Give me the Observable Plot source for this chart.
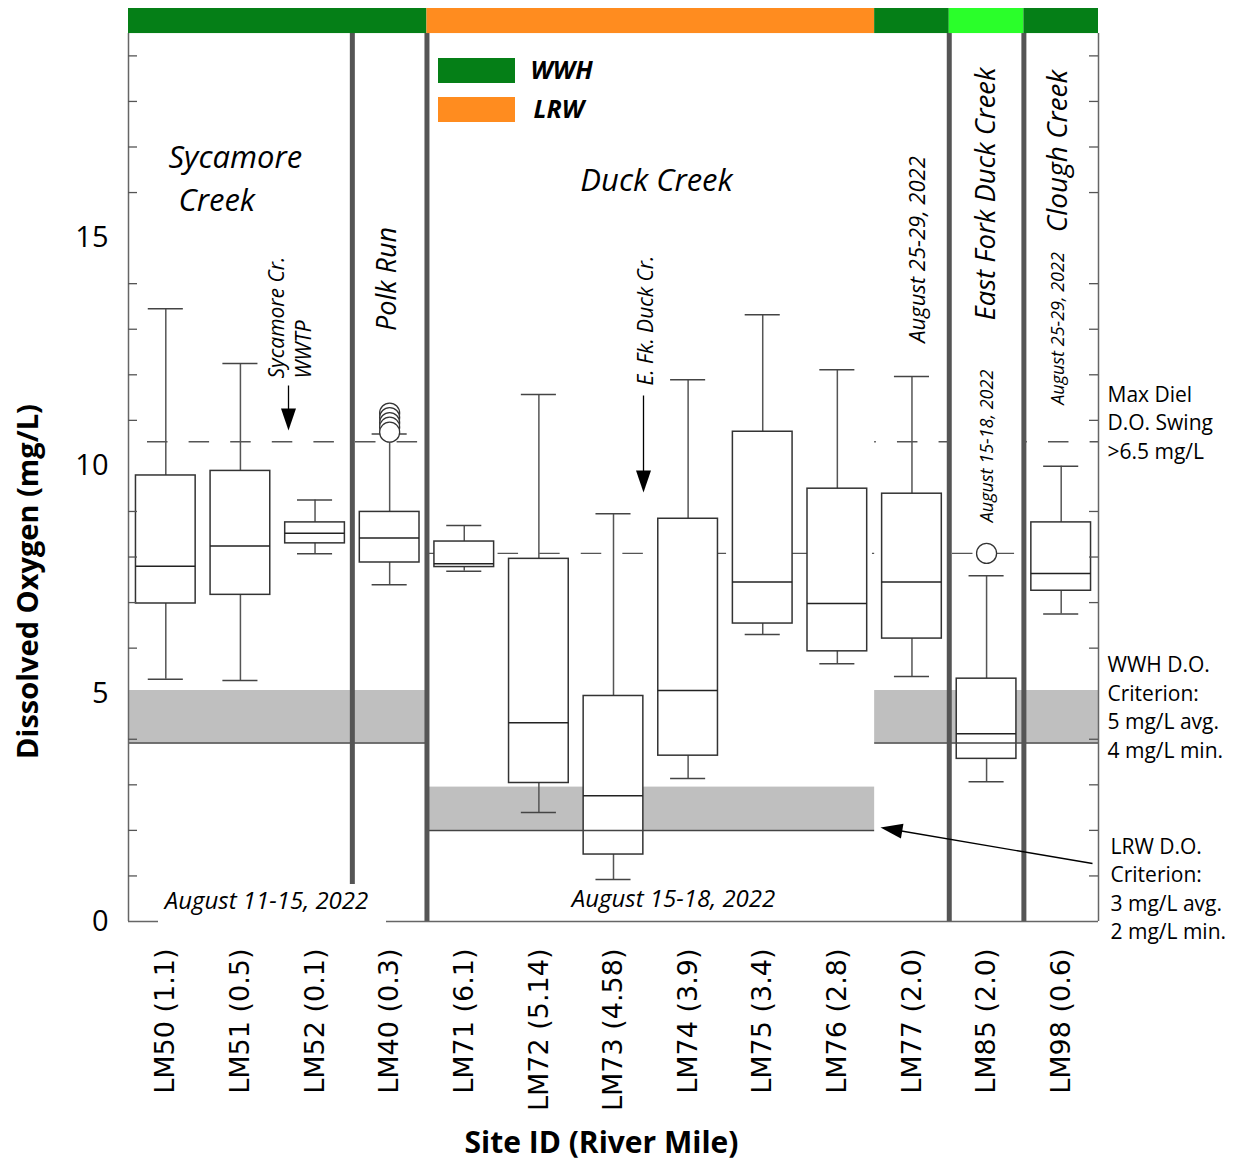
<!DOCTYPE html>
<html>
<head>
<meta charset="utf-8">
<script src="https://cdn.jsdelivr.net/npm/d3@7"></script>
<script src="https://cdn.jsdelivr.net/npm/@observablehq/plot@0.6"></script>
<style>
  body { margin: 0; background: #fff; }
  #chart svg { display: block; }
</style>
</head>
<body>
<div id="chart"></div>
<script>
// ---------------- data ----------------
const sites = ["LM50 (1.1)", "LM51 (0.5)", "LM52 (0.1)", "LM40 (0.3)", "LM71 (6.1)", "LM72 (5.14)",
  "LM73 (4.58)", "LM74 (3.9)", "LM75 (3.4)", "LM76 (2.8)", "LM77 (2.0)", "LM85 (2.0)", "LM98 (0.6)"];
const whiskerLow  = [5.32, 5.29, 8.07, 7.39, 7.69, 2.39, 0.92, 3.14, 6.30, 5.66, 5.38, 3.07, 6.75];
const quartile1   = [6.98, 7.17, 8.30, 7.88, 7.78, 3.04, 1.47, 3.64, 6.54, 5.93, 6.21, 3.57, 7.26];
const median      = [7.80, 8.24, 8.52, 8.42, 7.85, 4.36, 2.76, 5.07, 7.45, 6.98, 7.45, 4.12, 7.64];
const quartile3   = [9.79, 9.89, 8.76, 8.99, 8.34, 7.96, 4.95, 8.84, 10.75, 9.50, 9.39, 5.33, 8.76];
const whiskerHigh = [13.45, 12.25, 9.25, 10.70, 8.69, 11.57, 8.95, 11.89, 13.32, 12.11, 11.96, 7.59, 9.99];

const outlierSites  = ["LM40 (0.3)", "LM40 (0.3)", "LM40 (0.3)", "LM40 (0.3)", "LM40 (0.3)", "LM85 (2.0)"];
const outlierValues = [11.16, 11.06, 10.95, 10.85, 10.74, 8.08];

const streams = ["Sycamore Creek", "Sycamore Creek", "Sycamore Creek", "Polk Run", "Duck Creek", "Duck Creek",
  "Duck Creek", "Duck Creek", "Duck Creek", "Duck Creek", "Duck Creek", "East Fork Duck Creek", "Clough Creek"];
const aquaticUse = ["WWH", "WWH", "WWH", "WWH", "LRW", "LRW", "LRW", "LRW", "LRW", "LRW", "WWH", "WWH (E. Fk.)", "WWH"];
const criterionUse = ["WWH", "WWH", "WWH", "WWH", "LRW", "LRW", "LRW", "LRW", "LRW", "LRW", "WWH", "WWH", "WWH"];
const criterionAvg = {WWH: 5.07, LRW: 2.95};
const criterionMin = {WWH: 3.92, LRW: 2.0};
const dielSwingLevel = [10.53, 10.53, 10.53, 10.53, 8.08, 8.08, 8.08, 8.08, 8.08, 8.08, 10.53, 8.08, 10.53];

const legendLabels = ["WWH", "LRW"];
const yTickLabels = [0, 5, 10, 15];

// ---------------- styles / layout ----------------
const useColor = {"WWH": "#057f17", "LRW": "#ff8c1f", "WWH (E. Fk.)": "#2aff2a"};
const W = 1234, H = 1161;
const mL = 128, mR = 136, mT = 8, mB = 240;
const yMax = 20.04, frameTop = 19.49;
const nSites = sites.length;
const xd = px => (px - mL) / (W - mL - mR) * nSites;      // annotation helpers
const yd = py => (H - mB - py) / (H - mB - mT) * yMax;
const pxPerX = (W - mL - mR) / nSites;

function runs(values) {
  const out = [];
  values.forEach((v, i) => {
    const last = out[out.length - 1];
    if (last && last.value === v) last.end = i + 1;
    else out.push({value: v, start: i, end: i + 1});
  });
  return out;
}

const boxes = sites.map((s, i) => ({site: s, c: i + 0.5, lo: whiskerLow[i], q1: quartile1[i],
  med: median[i], q3: quartile3[i], hi: whiskerHigh[i]}));
const outliers = outlierSites.map((s, i) => ({site: s, value: outlierValues[i]}));
const BOX = 0.4, CAP = 0.235;

const criterionRuns = runs(criterionUse);
const useRuns = runs(aquaticUse);
const dielRuns = runs(dielSwingLevel);
const dividers = d3.range(1, nSites).filter(i => streams[i] !== streams[i - 1]);
const minorTicks = d3.range(1, 20).filter(v => v % 5 !== 0);

// dashed lines: lead (px) to the first dash in each run
const dashLead = [19, 29.5, 22.8, 3.2, 24.6];
const dashPeriod = 41.6;

const dashMarks = dielRuns.map((r, k) => Plot.ruleY([r], {
  y: "value", x1: "start", x2: "end", stroke: "#555", strokeWidth: 1.4,
  strokeDasharray: "20.5,21.1", strokeDashoffset: (dashPeriod - dashLead[k]) % dashPeriod
}));

// arrow head symbol: tip at origin, pointing up
const headSymbol = {draw(ctx) { ctx.moveTo(0, 0); ctx.lineTo(-7.5, 22); ctx.lineTo(7.5, 22); ctx.closePath(); }};
const lrwTail = [1092, 863], lrwTip = [880, 827];
const lrwAngle = Math.atan2(lrwTip[0] - lrwTail[0], -(lrwTip[1] - lrwTail[1])) * 180 / Math.PI;
const arrows = [
  {x1: xd(288), y1: yd(385), x2: xd(288), y2: yd(412), tx: xd(288), ty: yd(430), rot: 180},
  {x1: xd(643), y1: yd(395), x2: xd(643), y2: yd(474), tx: xd(643), ty: yd(492), rot: 180},
  {x1: xd(lrwTail[0]), y1: yd(lrwTail[1]), x2: xd(lrwTip[0] + 18), y2: yd(lrwTip[1] + 3), tx: xd(lrwTip[0]), ty: yd(lrwTip[1]), rot: lrwAngle}
];

const annotations = [
  {text: "Sycamore", x: 168, y: 158, size: 31, anchor: "start"},
  {text: "Creek", x: 178, y: 201, size: 31, anchor: "start"},
  {text: "Duck Creek", x: 656, y: 181, size: 31},
  {text: "Polk Run", x: 387, y: 278.5, size: 27, rotate: -90},
  {text: "Sycamore Cr.", x: 277, y: 378, size: 21, rotate: -90, anchor: "start"},
  {text: "WWTP", x: 304, y: 378, size: 21, rotate: -90, anchor: "start"},
  {text: "E. Fk. Duck Cr.", x: 646, y: 385, size: 21, rotate: -90, anchor: "start"},
  {text: "August 25-29, 2022", x: 917, y: 249, size: 22, rotate: -90},
  {text: "East Fork Duck Creek", x: 986, y: 193.5, size: 27.5, rotate: -90},
  {text: "Clough Creek", x: 1058, y: 150.5, size: 28, rotate: -90},
  {text: "August 25-29, 2022", x: 1058, y: 328, size: 18, rotate: -90},
  {text: "August 15-18, 2022", x: 987, y: 445.5, size: 18, rotate: -90},
  {text: "August 11-15, 2022", x: 266, y: 901, size: 24},
  {text: "August 15-18, 2022", x: 673, y: 899, size: 24}
];
const notes = [
  {text: "Max Diel\nD.O. Swing\n>6.5 mg/L", x: 1107, y: 420.5},
  {text: "WWH D.O.\nCriterion:\n5 mg/L avg.\n4 mg/L min.", x: 1107, y: 705.5},
  {text: "LRW D.O.\nCriterion:\n3 mg/L avg.\n2 mg/L min.", x: 1110, y: 887}
];

const chart = Plot.plot({
  width: W, height: H,
  marginLeft: mL, marginRight: mR, marginTop: mT, marginBottom: mB,
  style: {fontFamily: "Open Sans", background: "white"},
  x: {domain: [0, nSites], axis: null},
  y: {domain: [0, yMax], axis: null},
  color: {type: "identity"},
  marks: [
    // criterion bands
    Plot.rect(criterionRuns, {x1: "start", x2: "end", y1: d => criterionMin[d.value], y2: d => criterionAvg[d.value], fill: "#bfbfbf"}),
    // diel swing dashed lines
    ...dashMarks,
    // whiskers and caps
    Plot.ruleX(boxes, {x: "c", y1: "lo", y2: "hi", stroke: "#555", strokeWidth: 1.5}),
    Plot.ruleY(boxes, {y: "lo", x1: d => d.c - CAP, x2: d => d.c + CAP, stroke: "#444", strokeWidth: 1.5}),
    Plot.ruleY(boxes, {y: "hi", x1: d => d.c - CAP, x2: d => d.c + CAP, stroke: "#444", strokeWidth: 1.5}),
    // boxes
    Plot.rect(boxes, {x1: d => d.c - BOX, x2: d => d.c + BOX, y1: "q1", y2: "q3", fill: "white", stroke: "#333", strokeWidth: 1.5}),
    Plot.ruleY(boxes, {y: "med", x1: d => d.c - BOX, x2: d => d.c + BOX, stroke: "#222", strokeWidth: 1.5}),
    // criterion minimum lines
    Plot.ruleY(criterionRuns, {y: d => criterionMin[d.value], x1: "start", x2: "end", stroke: "#444", strokeWidth: 1.5}),
    // outliers
    Plot.dot(outliers, {x: d => sites.indexOf(d.site) + 0.5, y: "value", r: 10, fill: "white", stroke: "#333", strokeWidth: 1.3}),
    // stream dividers
    Plot.ruleX(dividers, {x: d => d, y1: 0, y2: frameTop, stroke: "#555", strokeWidth: 5}),
    // frame
    Plot.ruleX([0, nSites], {x: d => d, y1: 0, y2: frameTop, stroke: "#666", strokeWidth: 1.5}),
    Plot.ruleY([0], {x1: 0, x2: nSites, stroke: "#666", strokeWidth: 1.5}),
    // inward minor ticks
    Plot.ruleY(minorTicks, {y: d => d, x1: 0, x2: 9 / pxPerX, stroke: "#555", strokeWidth: 1.3}),
    Plot.ruleY(minorTicks, {y: d => d, x1: nSites - 9 / pxPerX, x2: nSites, stroke: "#555", strokeWidth: 1.3}),
    // top aquatic use band
    Plot.rect(useRuns, {x1: "start", x2: "end", y1: frameTop, y2: yMax, fill: d => useColor[d.value]}),
    // legend
    Plot.rect(legendLabels, {x1: xd(438), x2: xd(515), y1: (d, i) => yd(83 + 39 * i), y2: (d, i) => yd(58 + 39 * i), fill: d => useColor[d]}),
    Plot.text(legendLabels, {x: (d, i) => xd(530 + 3 * i), y: (d, i) => yd(70.5 + 39 * i), text: d => d, textAnchor: "start",
      fontSize: 25, fontWeight: "bold", fontStyle: "italic", fill: "black"}),
    // white background behind Sycamore date label
    Plot.rect([0], {x1: xd(158), x2: xd(386), y1: yd(923), y2: yd(884), fill: "white"}),
    // annotations
    ...annotations.map(a => Plot.text([a], {x: xd(a.x), y: yd(a.y), text: "text", rotate: a.rotate || 0,
      textAnchor: a.anchor || "middle", fontSize: a.size, fontStyle: "italic", fill: "black"})),
    ...notes.map(n => Plot.text([n], {x: xd(n.x), y: yd(n.y), text: "text", textAnchor: "start",
      fontSize: 21, lineHeight: 1.36, fill: "black"})),
    // arrows
    Plot.link(arrows, {x1: "x1", y1: "y1", x2: "x2", y2: "y2", stroke: "black", strokeWidth: 1.3}),
    Plot.dot(arrows, {x: "tx", y: "ty", rotate: "rot", symbol: headSymbol, fill: "black", stroke: "none"}),
    // axes
    Plot.axisY(yTickLabels, {anchor: "left", tickSize: 0, tickPadding: 20, fontSize: 29, fontFamily: "Open Sans", label: null}),
    Plot.axisX(d3.range(nSites).map(i => i + 0.5), {anchor: "bottom", tickFormat: d => sites[Math.floor(d)], tickRotate: -90,
      tickSize: 0, tickPadding: 27, fontSize: 27, fontFamily: "DejaVu Sans", label: null}),
    Plot.text(["Dissolved Oxygen (mg/L)"], {x: xd(28), y: yd(581), rotate: -90, fontSize: 29, fontWeight: "bold", fill: "black"}),
    Plot.text(["Site ID (River Mile)"], {x: xd(601), y: yd(1143), fontSize: 30, fontWeight: "bold", fill: "black"})
  ]
});
document.getElementById("chart").appendChild(chart);
</script>
</body>
</html>
